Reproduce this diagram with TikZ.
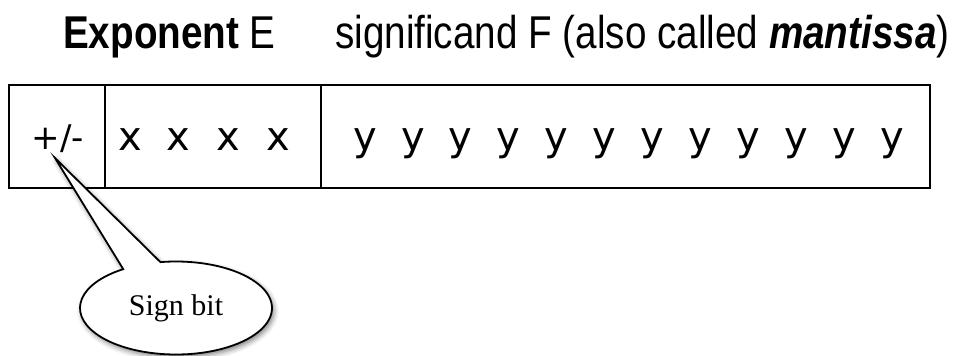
\documentclass[tikz,border=0pt]{standalone}
\usepackage{fontspec}
\setmainfont{Liberation Sans}
\newfontfamily\cellfont{DejaVu Sans}
\newfontfamily\calloutfont{Liberation Serif}
\usetikzlibrary{shapes.callouts,shadows.blur,positioning}

\begin{document}
\begin{tikzpicture}[
    x=1pt, y=-1pt,
    title/.style={anchor=base west, inner sep=0pt, font=\fontsize{46}{52}\selectfont},
    field/.style={draw, line width=1.6pt, minimum height=103pt, inner sep=0pt},
    bit/.style={anchor=base, inner sep=0pt, font=\cellfont\fontsize{40}{44}\selectfont},
    signnote/.style={ellipse callout, draw, line width=1.8pt, fill=white, minimum width=192pt, minimum height=93pt, callout pointer arc=24, blur shadow={shadow xshift=2pt, shadow yshift=-3pt, shadow blur radius=5pt, shadow opacity=50}, font=\calloutfont\fontsize{30}{34}\selectfont}
]
\useasboundingbox (0,0) rectangle (962,356);

% Header
\node[title] (expo-title) at (63,48) {\scalebox{0.84}[1]{\textbf{Exponent} E}};
\node[title] (mant-title) at (335,48) {\scalebox{0.84}[1]{significand F (also called \textbf{\textit{mantissa}})}};

% Fields
\node[field, minimum width=96pt] (sgn) at (57,136.5) {};
\node[field, minimum width=216pt] (expo) at (213,136.5) {};
\node[field, minimum width=609pt] (mant) at (625.5,136.5) {};

% Bits
\node[bit, font=\cellfont\fontsize{34}{38}\selectfont] (sgn-bit) at (58,149) {+/-};
\foreach \i/\px in {1/130,2/178,3/228,4/278}
    \node[bit] (x\i) at (\px,150) {x};
\foreach \i in {0,...,11}
    \node[bit] (y\i) at (365+47.9*\i,150) {y};

% Callout
\coordinate (tip) at (55,158);
\node[signnote, callout absolute pointer={(tip)}] (note) at (176,308) {Sign bit};

\end{tikzpicture}
\end{document}
